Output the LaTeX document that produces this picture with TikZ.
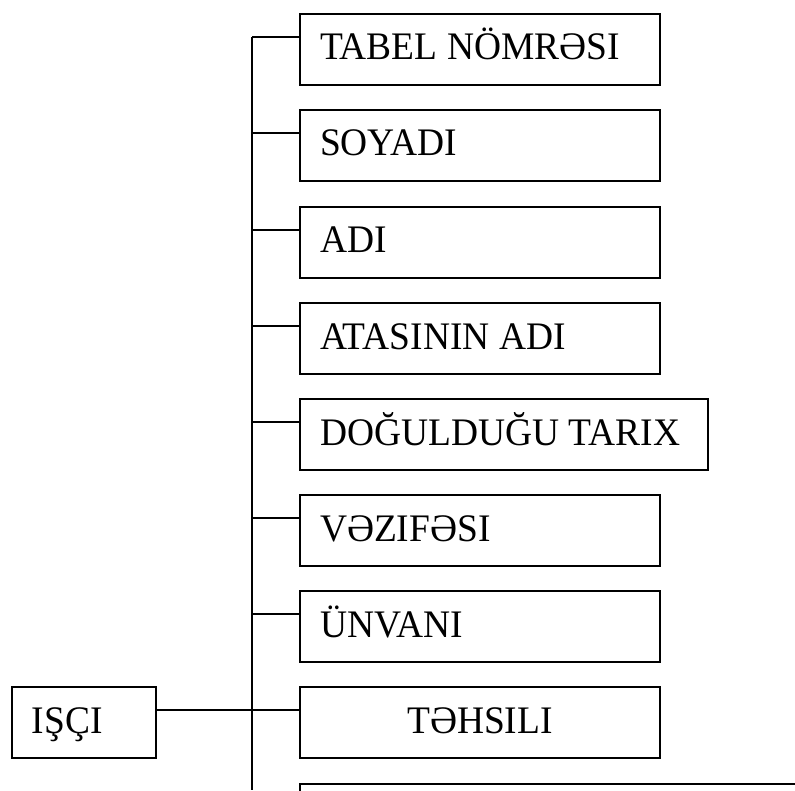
\documentclass[tikz,border=0pt]{standalone}
\usepackage{fontspec}
\setmainfont[FakeStretch=0.96]{Liberation Serif}
\usetikzlibrary{calc}

\tikzset{
	attr/.style={draw, line width=1pt, anchor=north west, minimum height=35.5pt,
		inner xsep=10pt, inner ysep=0pt, text width=160pt, align=left,
		text height=13pt, text depth=2.5pt, font=\fontsize{19.5pt}{23pt}\selectfont,
		execute at begin node={\spaceskip=0.25em\relax}},
	link/.style={line width=1pt},
}

\begin{document}
\begin{tikzpicture}[x=0.5pt, y=-0.5pt]
			%%%%% START %%%%%
			
			\path[use as bounding box, clip] (0,0) rectangle (795,790);
			
			% entity
			\node[attr, text width=52pt] (isci) at (11,686) {IŞÇI};
			
			% fields
			\node[attr] (tabel) at (299,13) {TABEL NÖMRƏSI};
			\node[attr] (soyad) at (299,109) {SOYADI};
			\node[attr] (ad) at (299,206) {ADI};
			\node[attr] (ata) at (299,302) {ATASININ ADI};
			\node[attr, text width=184pt] (dogum) at (299,398) {DOĞULDUĞU TARIX};
			\node[attr] (vezife) at (299,494) {VƏZIFƏSI};
			\node[attr] (unvan) at (299,590) {ÜNVANI};
			\node[attr, align=center] (tehsil) at (299,686) {TƏHSILI};
			\node[attr, text width=300pt] (next) at (299,783) {};
			
			% bus line
			\coordinate (bus top) at (252,37);
			\coordinate (bus end) at (252,790);
			\draw[link] (bus top) -- (bus end);
			
			\path (tabel.north west) ++(0,24) coordinate (tabel tap);
			\path (soyad.north west) ++(0,24) coordinate (soyad tap);
			\path (ad.north west) ++(0,24) coordinate (ad tap);
			\path (ata.north west) ++(0,24) coordinate (ata tap);
			\path (dogum.north west) ++(0,24) coordinate (dogum tap);
			\path (vezife.north west) ++(0,24) coordinate (vezife tap);
			\path (unvan.north west) ++(0,24) coordinate (unvan tap);
			\path (tehsil.north west) ++(0,24) coordinate (tehsil tap);
			
			\draw[link] (tabel tap) -- (tabel tap -| bus top);
			\draw[link] (soyad tap) -- (soyad tap -| bus top);
			\draw[link] (ad tap) -- (ad tap -| bus top);
			\draw[link] (ata tap) -- (ata tap -| bus top);
			\draw[link] (dogum tap) -- (dogum tap -| bus top);
			\draw[link] (vezife tap) -- (vezife tap -| bus top);
			\draw[link] (unvan tap) -- (unvan tap -| bus top);
			\draw[link] (isci.east |- tehsil tap) -- (tehsil tap);
			
			%%%%% END %%%%%
\end{tikzpicture}
\end{document}
